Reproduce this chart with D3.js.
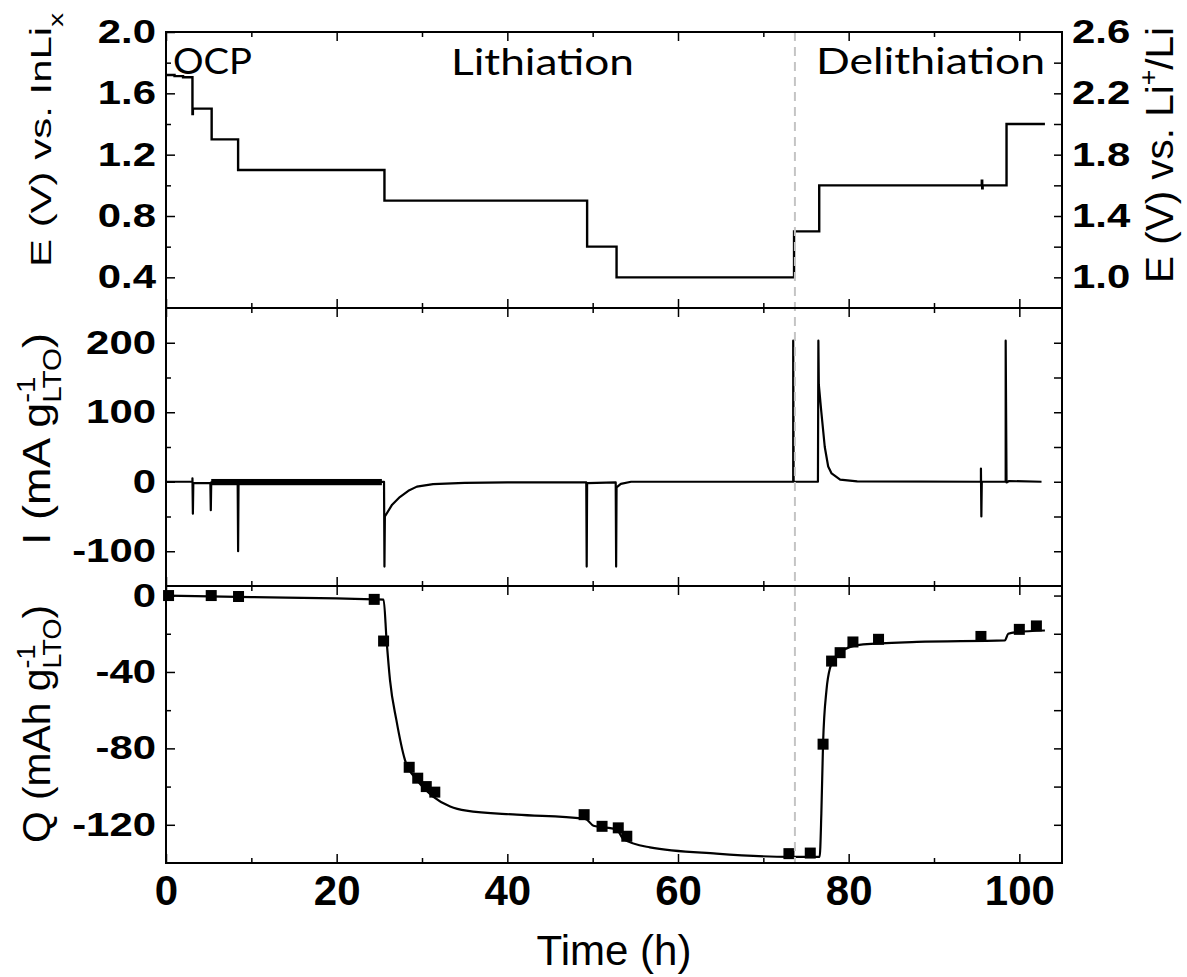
<!DOCTYPE html>
<html lang="en">
<head>
<meta charset="UTF-8">
<title>E, I and Q vs. time</title>
<script src="https://d3js.org/d3.v7.min.js"></script>
<style>
  body { margin: 0; background: #fff; }
  svg { display: block; }
  .tick text { font-family: "Liberation Sans", Arial, sans-serif; font-weight: bold; fill: #000; }
  .tick line { stroke: #000; stroke-width: 1.5; }
</style>
</head>
<body>
<div id="chart"></div>
<script>
// potential steps, E (V) vs. InLix
const eTime = [0, 1, 2, 3.1, 3.15, 5.35, 8.45, 25.6, 49.35, 52.8, 73.6, 76.55, 95.6, 95.65, 95.7, 98.5, 103.0];
const eVolt = [1.72, 1.712, 1.705, 1.465, 1.50, 1.30, 1.10, 0.90, 0.60, 0.40, 0.70, 1.00, 1.03, 0.98, 1.00, 1.40, 1.40];

// current, mA per g LTO
const iTime = [0, 3.1, 3.1, 3.15, 3.2, 5.2, 5.25, 5.3, 8.4, 8.45, 8.5, 25.55, 25.6, 25.65, 26.5, 27.4, 28.4, 29.4, 31.3, 35, 40,
  49.25, 49.3, 49.35, 52.7, 52.75, 52.8, 53.3, 54.5, 73.5, 73.5, 73.55, 76.4, 76.45, 76.5, 76.8, 77.2, 77.6, 78.0, 79.0, 81.0,
  95.5, 95.5, 95.55, 95.6, 98.4, 98.4, 98.5, 98.8, 102.6];
const iVal = [0, 0, 5, -46, -2, -2, -41, -1, -1, -100, -1, 0, -122, -50, -33, -22, -13, -7, -3.4, -1.5, -1,
  -1, -122, -2, -1, -122, -8, -3, 0, 0, 203, 0, 0, 203, 140, 100, 50, 22, 12, 3, 0.5,
  0, 19, -50, 0, 0, 203, -1, 1, 0];
// noisy stretch of the current trace
const iNoiseT = [5.3, 25.3];
const iNoiseV = [-5, 4];

// charge, mAh per g LTO
const qTime = [0, 10, 20, 24.4, 25.5, 25.85, 26.25, 27.0, 28.0, 29.4, 31.3, 33.3, 35.2, 41.1, 48.9, 49.3, 50.1, 52.8, 53.6, 56.7,
  64.5, 73.1, 76.6, 76.8, 77.0, 77.4, 77.8, 78.6, 80.2, 81.7, 88.0, 98.3, 98.7, 99.7, 103.0];
const qVal = [0, -0.8, -1.5, -2, -2.1, -23.5, -44.3, -65.2, -86, -96.5, -105.2, -110.4, -112.6, -114.7, -116.8, -117.3, -120.5, -122.4, -127.5, -131.8,
  -135.1, -136.8, -136.8, -114, -77.4, -49.5, -38.2, -31.3, -26.9, -25.6, -24.3, -23.5, -20, -19.1, -18.3];
const qMarkT = [0.3, 5.3, 8.5, 24.4, 25.5, 28.5, 29.5, 30.5, 31.5, 49.0, 51.1, 53.0, 54.0, 73.0, 75.5, 77.0, 78.0, 79.0, 80.5, 83.5, 95.5, 100.0, 102.0];
const qMarkV = [0, 0, -0.5, -2, -23.8, -89.9, -95.6, -100, -102.9, -114.7, -120.8, -121.6, -126, -135.1, -134.8, -77.8, -34.3, -29.9, -24.3, -22.9, -21.4, -17.7, -15.9];

const switchTime = 73.7;   // lithiation -> delithiation
const phaseNames = ["OCP", "Lithiation", "Delithiation"];

const xTicksMajor = [0, 20, 40, 60, 80, 100];
const xTicksMinor = [10, 30, 50, 70, 90];
const eTicksMajor = [0.4, 0.8, 1.2, 1.6, 2.0];
const eTicksMinor = [0.6, 1.0, 1.4, 1.8];
const e2Ticks = [1.0, 1.2, 1.4, 1.6, 1.8, 2.0, 2.2, 2.4];
const e2Labels = [1.0, 1.4, 1.8, 2.2, 2.6];
const iTicksMajor = [-100, 0, 100, 200];
const iTicksMinor = [-50, 50, 150];
const iTicksRight = [-100, -50, 0, 50, 100, 150, 200];
const qTicksMajor = [-120, -80, -40, 0];
const qTicksMinor = [-100, -60, -20];
const qTicksRight = [-120, -100, -80, -60, -40, -20, 0];

const W = 1187, H = 977;
const svg = d3.select("#chart").append("svg").attr("width", W).attr("height", H);
svg.append("rect").attr("width", W).attr("height", H).attr("fill", "#fff");

const x = d3.scaleLinear().domain([0, 105]).range([166, 1062]);
const yE = d3.scaleLinear().domain([0.2, 2.0]).range([308, 32]);
const yE2 = d3.scaleLinear().domain([0.8, 2.6]).range([308, 32]);
const yI = d3.scaleLinear().domain([-150, 250]).range([586, 308]);
const yQ = d3.scaleLinear().domain([-140, 5]).range([863, 586]);

const stretch = 1.27;   // tick labels are a bit wide in the original
const fmt1 = d => d.toFixed(1);
const fmt0 = d => String(d);

// ---- data ----
svg.append("path")
  .datum(d3.zip(eTime, eVolt))
  .attr("fill", "none").attr("stroke", "#000").attr("stroke-width", 2.4)
  .attr("d", d3.line().x(d => x(d[0])).y(d => yE(d[1])).curve(d3.curveStepAfter));

svg.append("rect")
  .attr("x", x(iNoiseT[0])).attr("width", x(iNoiseT[1]) - x(iNoiseT[0]))
  .attr("y", yI(iNoiseV[1])).attr("height", yI(iNoiseV[0]) - yI(iNoiseV[1]))
  .attr("fill", "#000");

svg.append("path")
  .datum(d3.zip(iTime, iVal))
  .attr("fill", "none").attr("stroke", "#000").attr("stroke-width", 2.2)
  .attr("stroke-linejoin", "round")
  .attr("d", d3.line().x(d => x(d[0])).y(d => yI(d[1])));

svg.append("path")
  .datum(d3.zip(qTime, qVal))
  .attr("fill", "none").attr("stroke", "#000").attr("stroke-width", 2.2)
  .attr("d", d3.line().x(d => x(d[0])).y(d => yQ(d[1])).curve(d3.curveMonotoneX));

const sq = 11;
svg.selectAll("rect.mark")
  .data(d3.zip(qMarkT, qMarkV))
  .enter().append("rect")
  .attr("class", "mark")
  .attr("x", d => x(d[0]) - sq / 2).attr("y", d => yQ(d[1]) - sq / 2)
  .attr("width", sq).attr("height", sq)
  .attr("fill", "#000");

// switch marker
svg.append("line")
  .attr("x1", x(switchTime)).attr("x2", x(switchTime))
  .attr("y1", yE.range()[1]).attr("y2", yQ.range()[0])
  .attr("stroke", "#c4c4c4").attr("stroke-width", 2).attr("stroke-dasharray", "9,6");

// ---- axes ----
const panels = [
  { y: yE, major: eTicksMajor, minor: eTicksMinor, fmt: fmt1 },
  { y: yI, major: iTicksMajor, minor: iTicksMinor, fmt: fmt0, right: iTicksRight },
  { y: yQ, major: qTicksMajor, minor: qTicksMinor, fmt: fmt0, right: qTicksRight }
];

function addAxis(axis, tx, ty, fontSize) {
  const g = svg.append("g").attr("transform", `translate(${tx},${ty})`).call(axis);
  g.select(".domain").remove();
  g.attr("font-size", fontSize).attr("font-family", null);
  return g;
}

panels.forEach((p, i) => {
  const [bot, top] = p.y.range();
  const last = i === panels.length - 1;

  // x ticks on top and bottom edges, pointing inward
  addAxis(d3.axisTop(x).tickValues(xTicksMajor).tickSize(-9).tickFormat(""), 0, top);
  addAxis(d3.axisTop(x).tickValues(xTicksMinor).tickSize(-5).tickFormat(""), 0, top);
  addAxis(d3.axisBottom(x).tickValues(xTicksMajor).tickSize(-9).tickPadding(12)
    .tickFormat(last ? fmt0 : ""), 0, bot, 42);
  addAxis(d3.axisBottom(x).tickValues(xTicksMinor).tickSize(-5).tickFormat(""), 0, bot);

  // left y
  const gl = addAxis(d3.axisLeft(p.y).tickValues(p.major).tickSize(-9).tickPadding(10 / stretch)
    .tickFormat(p.fmt), x.range()[0], 0, 33);
  gl.selectAll("text").attr("transform", `scale(${stretch},1)`);
  addAxis(d3.axisLeft(p.y).tickValues(p.minor).tickSize(-5).tickFormat(""), x.range()[0], 0);

  // right y
  if (p.right) {
    addAxis(d3.axisRight(p.y).tickValues(p.right).tickSize(-8).tickFormat(""), x.range()[1], 0);
  }

  svg.append("rect")
    .attr("x", x.range()[0]).attr("y", top)
    .attr("width", x.range()[1] - x.range()[0]).attr("height", bot - top)
    .attr("fill", "none").attr("stroke", "#000").attr("stroke-width", 2);
});

// right axis of the potential panel, vs. Li+/Li
addAxis(d3.axisRight(yE2).tickValues(e2Ticks).tickSize(-8).tickFormat(""), x.range()[1], 0);
const gr = addAxis(d3.axisRight(yE2).tickValues(e2Labels).tickSize(0).tickPadding(10 / stretch)
  .tickFormat(fmt1), x.range()[1], 0, 33);
gr.selectAll("text").attr("transform", `scale(${stretch},1)`);
gr.selectAll("line").remove();

// ---- texts ----
svg.append("text")
  .attr("x", (x.range()[0] + x.range()[1]) / 2).attr("y", 965)
  .attr("text-anchor", "middle")
  .attr("font-family", "Liberation Sans, Arial, sans-serif").attr("font-size", 42)
  .text("Time (h)");

const phasePos = [[173, 74, 79], [451, 75, 183], [816, 74, 229]];
phaseNames.forEach((name, i) => {
  svg.append("text")
    .attr("x", phasePos[i][0]).attr("y", phasePos[i][1])
    .attr("textLength", phasePos[i][2]).attr("lengthAdjust", "spacingAndGlyphs")
    .attr("font-family", "Lato, sans-serif").attr("font-size", 37)
    .text(name);
});

// rotated titles built from parts: n = normal, sub, sup, stack = [sup, sub]
function rotTitle(px, py, size, len, parts) {
  const outer = svg.append("g").attr("transform", `translate(${px},${py}) rotate(-90)`);
  const g = outer.append("g")
    .attr("font-family", "Liberation Sans, Arial, sans-serif").attr("fill", "#000");
  const small = size * 0.66;
  let cur = 0;
  const put = (t, fs, dy) => {
    const el = g.append("text").attr("x", cur).attr("y", dy).attr("font-size", fs).text(t);
    return el.node().getComputedTextLength();
  };
  parts.forEach(p => {
    if (p.n) cur += put(p.n, size, 0);
    else if (p.sub) cur += put(p.sub, small, size * 0.4);
    else if (p.sup) cur += put(p.sup, small, -size * 0.42);
    else if (p.stack) {
      const a = put(p.stack[0], small, -size * 0.4);
      const b = put(p.stack[1], small, size * 0.28);
      cur += Math.max(a, b);
    }
  });
  g.attr("transform", `scale(${len / cur},1)`);
}

rotTitle(51, 267, 30, 254, [{ n: "E (V) vs. InLi" }, { sub: "x" }]);
rotTitle(50, 545, 38, 212, [{ n: "I (mA g" }, { stack: ["-1", "LTO"] }, { n: ")" }]);
rotTitle(50, 843, 38, 238, [{ n: "Q (mAh g" }, { stack: ["-1", "LTO"] }, { n: ")" }]);
rotTitle(1173, 283, 39, 256, [{ n: "E (V) vs. Li" }, { sup: "+" }, { n: "/Li" }]);
</script>
</body>
</html>
